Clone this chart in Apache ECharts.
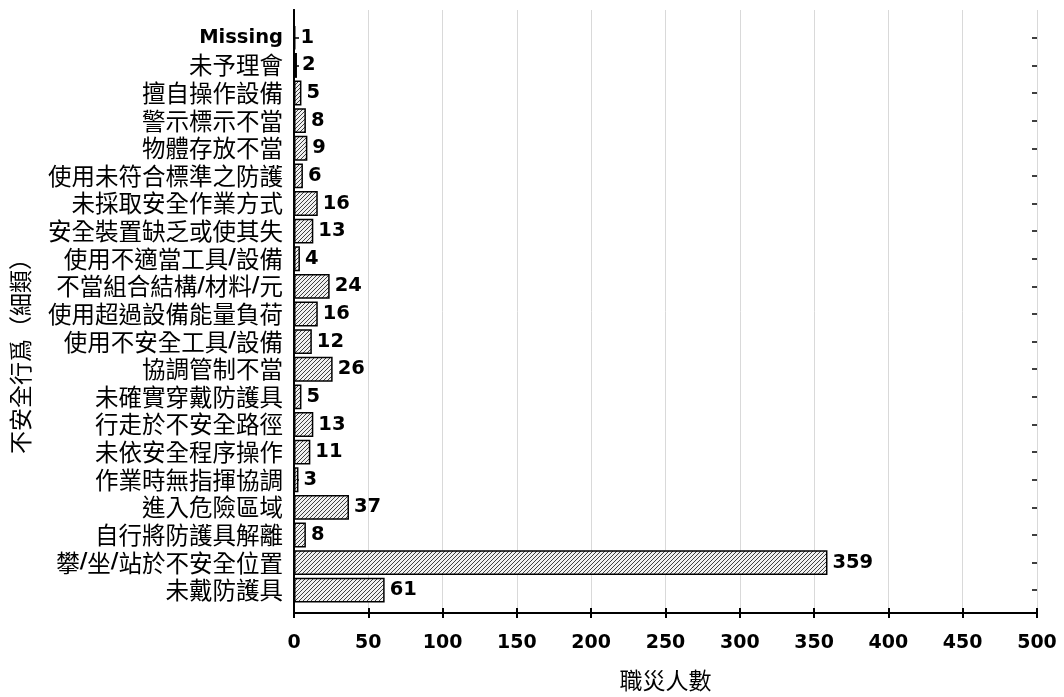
<!DOCTYPE html>
<html><head><meta charset="utf-8">
<script src="https://cdn.jsdelivr.net/npm/echarts@6/dist/echarts.min.js"></script>
<style>html,body{margin:0;padding:0;background:#fff}#c{width:1064px;height:697px}</style>
</head><body><div id="c"></div>
<script>
var categories = ['Missing','未予理會','擅自操作設備','警示標示不當','物體存放不當','使用未符合標準之防護','未採取安全作業方式','安全裝置缺乏或使其失','使用不適當工具/設備','不當組合結構/材料/元','使用超過設備能量負荷','使用不安全工具/設備','協調管制不當','未確實穿戴防護具','行走於不安全路徑','未依安全程序操作','作業時無指揮協調','進入危險區域','自行將防護具解離','攀/坐/站於不安全位置','未戴防護具'];
var values = [1,2,5,8,9,6,16,13,4,24,16,12,26,5,13,11,3,37,8,359,61];
var xTicks = {min:0, max:500, interval:50};
var xName = '職災人數';
var yName = '不安全行爲（細類）';

var pc = document.createElement('canvas');
pc.width = 4; pc.height = 4;
var g = pc.getContext('2d');
g.fillStyle = '#f0f0f0'; g.fillRect(0,0,4,4);
g.strokeStyle = '#2a2a2a'; g.lineWidth = 0.9;
g.beginPath();
g.moveTo(0,4); g.lineTo(4,0);
g.moveTo(-1,1); g.lineTo(1,-1);
g.moveTo(3,5); g.lineTo(5,3);
g.stroke();

var cjk = '"Noto Sans CJK TC", "Noto Sans CJK SC", sans-serif';
var chart = echarts.init(document.getElementById('c'));
chart.setOption({
  backgroundColor:'#fff',
  animation:false,
  grid:[
    {left:294, right:27, top:10, bottom:81},
    {left:294, right:27, top:24, bottom:93}
  ],
  xAxis:[
    {gridIndex:0, type:'value', min:xTicks.min, max:xTicks.max, interval:xTicks.interval,
     axisLine:{show:true, lineStyle:{color:'#000', width:2}},
     axisTick:{show:true, inside:true, length:5, lineStyle:{color:'#000', width:2}},
     axisLabel:{color:'#000', fontFamily:'DejaVu Sans', fontWeight:'bold', fontSize:19, margin:21},
     splitLine:{show:true, lineStyle:{color:'#d9d9d9', width:1}},
     name:xName, nameLocation:'middle', nameGap:56,
     nameTextStyle:{color:'#000', fontFamily:cjk, fontSize:23}},
    {gridIndex:0, type:'value', position:'top', min:xTicks.min, max:xTicks.max, interval:xTicks.interval,
     axisLine:{show:true, lineStyle:{color:'#000', width:2}},
     axisTick:{show:true, inside:true, length:5, lineStyle:{color:'#000', width:2}},
     axisLabel:{show:false}, splitLine:{show:false}},
    {gridIndex:1, type:'value', min:xTicks.min, max:xTicks.max, interval:xTicks.interval, show:false}
  ],
  yAxis:[
    {gridIndex:0, type:'value', min:0, max:1,
     axisLine:{show:true, lineStyle:{color:'#000', width:2}},
     axisTick:{show:false}, axisLabel:{show:false}, splitLine:{show:false},
     name:yName, nameLocation:'middle', nameRotate:90, nameGap:262,
     nameTextStyle:{color:'#000', fontFamily:cjk, fontSize:23, padding:[0,78,0,0]}},
    {gridIndex:0, type:'value', position:'right', min:0, max:1,
     axisLine:{show:true, lineStyle:{color:'#000', width:2}},
     axisTick:{show:false}, axisLabel:{show:false}, splitLine:{show:false}},
    {gridIndex:1, type:'category', data:categories, inverse:true,
     axisLine:{show:false},
     axisTick:{show:true, inside:true, alignWithLabel:true, length:5, lineStyle:{color:'#000', width:1.5}},
     axisLabel:{color:'#000', fontFamily:cjk, fontSize:23.5, margin:11, interval:0,
       formatter:function(v){
         if(v==='Missing') return '{b|Missing}';
         return v.split('/').join('{s|/}');
       },
       rich:{
         b:{fontFamily:'DejaVu Sans', fontWeight:'bold', fontSize:19.5, color:'#000'},
         s:{fontFamily:'DejaVu Sans', fontWeight:'bold', fontSize:21, color:'#000'}
       }},
     splitLine:{show:false}},
    {gridIndex:1, type:'category', data:categories, inverse:true, position:'right',
     axisLine:{show:false},
     axisTick:{show:true, inside:true, alignWithLabel:true, length:5, lineStyle:{color:'#000', width:1.5}},
     axisLabel:{show:false}, splitLine:{show:false}}
  ],
  series:[{
    type:'bar', xAxisIndex:2, yAxisIndex:2, data:values,
    barCategoryGap:'10%',
    itemStyle:{color:{image:pc, repeat:'repeat'}, borderColor:'#000', borderWidth:1.5},
    label:{show:true, position:'right', distance:5, color:'#000',
      fontFamily:'DejaVu Sans', fontWeight:'bold', fontSize:19.5}
  }]
});
</script></body></html>
